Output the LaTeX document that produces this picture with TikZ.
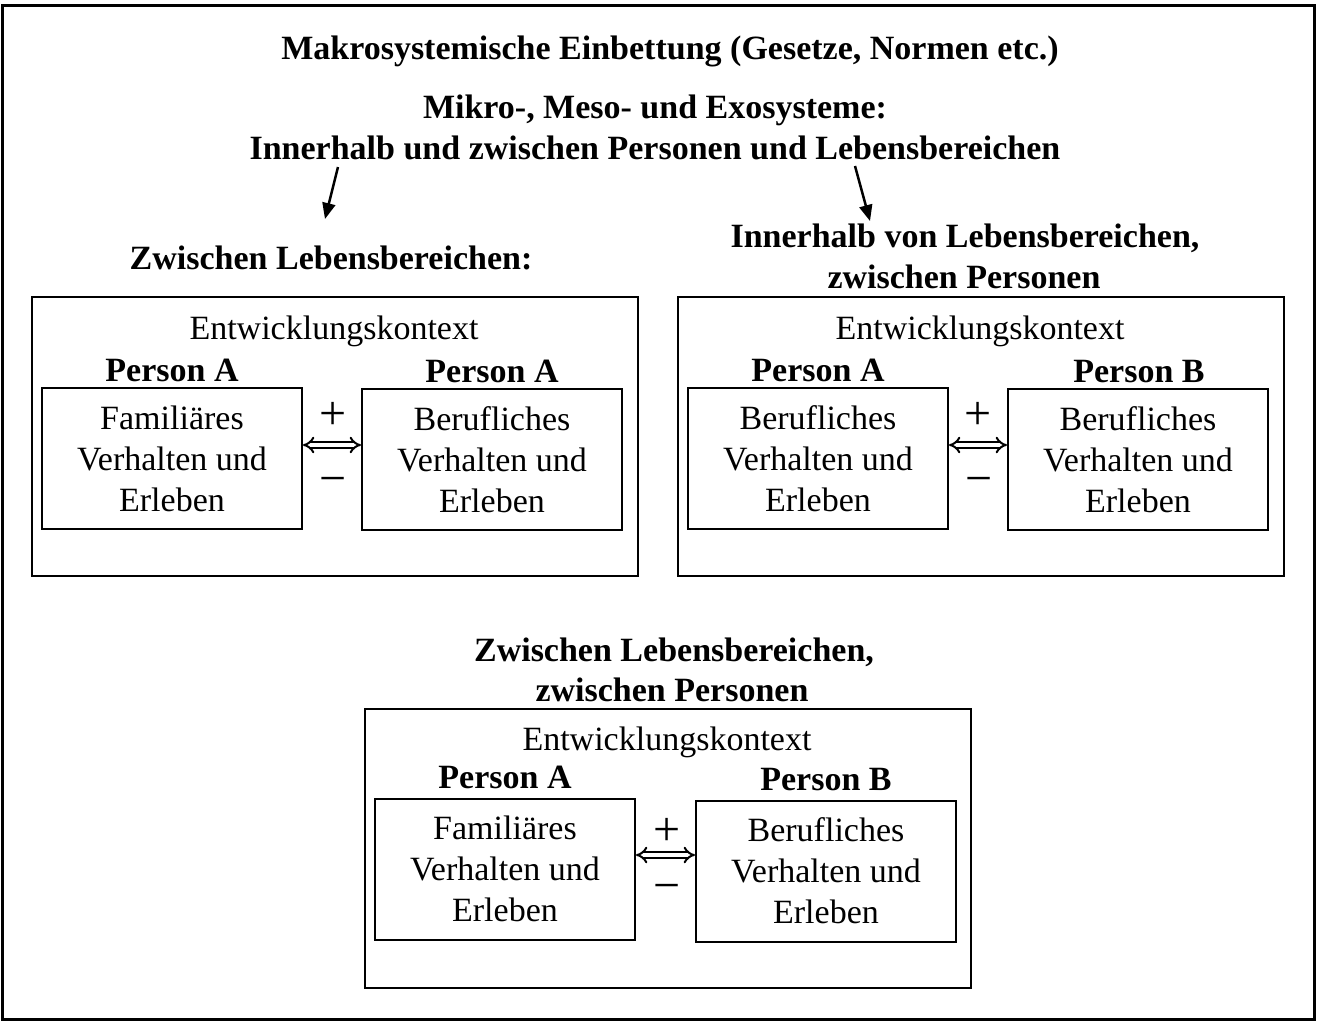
\documentclass[tikz,border=0pt]{standalone}
\usepackage{fontspec}
\setmainfont{Liberation Serif}
\usetikzlibrary{arrows.meta}
\tikzset{
  txt/.style={font=\fontsize{34}{41}\selectfont, inner sep=0pt, align=center, text height=0.7em, text depth=0.2em},
  btxt/.style={txt, font=\fontsize{34}{41}\selectfont\bfseries},
  ctx/.style={draw, line width=2pt, minimum width=606pt, minimum height=279pt, inner sep=0pt},
  inbox/.style={draw, line width=2pt, minimum width=260pt, minimum height=141pt, inner sep=0pt, align=center, font=\fontsize{34}{41}\selectfont},
  sign/.style={inner sep=0pt, font=\fontsize{48}{48}\selectfont},
  dbl/.style={double, double distance=3.5pt, line width=2pt, {Implies[length=10pt]}-{Implies[length=10pt]}},
  arr/.style={line width=2.5pt, -{Triangle[length=16pt,width=13pt]}}
}
\begin{document}
\begin{tikzpicture}[x=1pt,y=-1pt]
\useasboundingbox (0,0) rectangle (1317,1021);
\draw[line width=3pt] (2,5) rectangle (1314,1019);

\node[btxt] (t1) at (670,57) {Makrosystemische Einbettung (Gesetze, Normen etc.)};
\node[btxt] (t2) at (655,116) {Mikro-, Meso- und Exosysteme:};
\node[btxt] (t3) at (655,157) {Innerhalb und zwischen Personen und Lebensbereichen};

\node[btxt] (h1) at (331,267) {Zwischen Lebensbereichen:};
\node[btxt] (h2a) at (965,245) {Innerhalb von Lebensbereichen,};
\node[btxt] (h2b) at (964,286) {zwischen Personen};
\node[btxt] (h3a) at (674,659) {Zwischen Lebensbereichen,};
\node[btxt] (h3b) at (672,699) {zwischen Personen};

\coordinate (a1s) at (338,167);
\coordinate (a1e) at (325,219);
\coordinate (a2s) at (855,166);
\coordinate (a2e) at (870,221);
\draw[arr] (a1s) -- (a1e);
\draw[arr] (a2s) -- (a2e);

% left group
\node[ctx] (c1) at (335,436.5) {};
\node[txt] (e1) at (334,337) {Entwicklungskontext};
\node[inbox] (b1) at (172,458.5) {Familiäres\\Verhalten und\\Erleben};
\node[inbox] (b2) at (492,459.5) {Berufliches\\Verhalten und\\Erleben};
\node[btxt] (p1) at (172,379) {Person A};
\node[btxt] (p2) at (492,380) {Person A};
\node[sign] (s1) at (333,416) {+};
\node[sign] (m1) at (333,486) {−};
\draw[dbl] ([yshift=13.5pt]b1.east) -- ([yshift=13.5pt]b1.east -| b2.west);

% right group
\node[ctx] (c2) at (981,436.5) {};
\node[txt] (e2) at (980,337) {Entwicklungskontext};
\node[inbox] (b3) at (818,458.5) {Berufliches\\Verhalten und\\Erleben};
\node[inbox] (b4) at (1138,459.5) {Berufliches\\Verhalten und\\Erleben};
\node[btxt] (p3) at (818,379) {Person A};
\node[btxt] (p4) at (1139,380) {Person B};
\node[sign] (s2) at (978,416) {+};
\node[sign] (m2) at (979,486) {−};
\draw[dbl] ([yshift=13.5pt]b3.east) -- ([yshift=13.5pt]b3.east -| b4.west);

% bottom group
\node[ctx] (c3) at (668,848.5) {};
\node[txt] (e3) at (667,748) {Entwicklungskontext};
\node[inbox] (b5) at (505,869) {Familiäres\\Verhalten und\\Erleben};
\node[inbox] (b6) at (826,871) {Berufliches\\Verhalten und\\Erleben};
\node[btxt] (p5) at (505,786) {Person A};
\node[btxt] (p6) at (826,788) {Person B};
\node[sign] (s3) at (667,832) {+};
\node[sign] (m3) at (667,893) {−};
\draw[dbl] ([yshift=14pt]b5.east) -- ([yshift=14pt]b5.east -| b6.west);
\end{tikzpicture}
\end{document}
